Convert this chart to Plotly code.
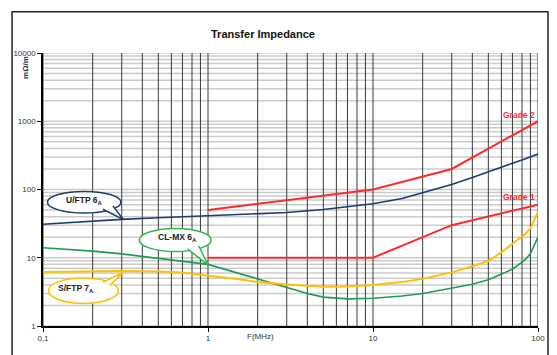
import plotly.graph_objects as go

# Frequency axis (MHz) and measured transfer impedance (mOhm/m)
utp_freq = [0.1, 0.15, 0.2, 0.3, 0.5, 0.7, 1, 1.5, 2, 3, 5, 7, 10, 15, 20, 30, 40, 50, 60, 70, 80, 90, 100]
utp_vals = [31, 33, 34.5, 36.5, 38.5, 40, 41.5, 43, 44, 46, 51, 55.5, 62, 74, 90, 118, 150, 183, 213, 243, 270, 300, 330]

clmx_freq = [0.1, 0.2, 0.3, 0.5, 0.7, 1, 1.5, 2, 3, 4, 5, 7, 10, 15, 20, 25, 30, 40, 50, 60, 70, 80, 85, 90, 95, 100]
clmx_vals = [14, 12.5, 11.4, 9.9, 8.9, 8.0, 6.0, 4.9, 3.6, 3.0, 2.65, 2.5, 2.55, 2.75, 3.0, 3.3, 3.55, 4.1, 4.75, 5.7, 6.8, 8.6, 9.8, 11.5, 15, 20]

sftp_freq = [0.1, 0.2, 0.3, 0.5, 0.7, 1, 1.5, 2, 3, 5, 7, 10, 15, 20, 30, 40, 50, 60, 70, 80, 85, 90, 95, 100]
sftp_vals = [6.2, 6.3, 6.4, 6.3, 6.1, 5.45, 4.9, 4.4, 4.05, 3.75, 3.8, 4.0, 4.4, 4.9, 6.1, 7.5, 8.9, 12, 16, 20, 23, 27, 35, 47]

# Limit lines
grade2_freq = [1, 10, 30, 100]
grade2_vals = [50, 100, 200, 1000]
grade1_freq = [1, 10, 30, 100]
grade1_vals = [10, 10, 30, 60]

x_major = [0.1, 1, 10, 100]
x_major_text = ["0,1", "1", "10", "100"]
y_major = [1, 10, 100, 1000, 10000]
y_major_text = ["1", "10", "100", "1000", "10000"]

NAVY = "#1f3a6e"
RED = "#ff2b2b"
GREEN = "#1f9a58"
GREEN_B = "#2db84d"
GOLD = "#ffc000"

W, H = 557, 355
L, R, T, B = 43, 18, 53, 18
PW, PH = W - L - R, H - T - B


def px(x, y):
    """Pixel position -> paper coordinates."""
    return (x - L) / PW, (H - B - y) / PH


x_grid = [m * 10.0 ** e for e in (-1, 0, 1) for m in range(1, 10)] + [100]
y_grid = [m * 10.0 ** e for e in (0, 1, 2, 3) for m in range(1, 10)] + [10000]

fig = go.Figure()
fig.add_trace(go.Scatter(x=grade2_freq, y=grade2_vals, mode="lines", line=dict(color=RED, width=2)))
fig.add_trace(go.Scatter(x=grade1_freq, y=grade1_vals, mode="lines", line=dict(color=RED, width=2)))
fig.add_trace(go.Scatter(x=utp_freq, y=utp_vals, mode="lines", line=dict(color=NAVY, width=1.6)))
fig.add_trace(go.Scatter(x=clmx_freq, y=clmx_vals, mode="lines", line=dict(color=GREEN, width=1.6)))
fig.add_trace(go.Scatter(x=sftp_freq, y=sftp_vals, mode="lines", line=dict(color=GOLD, width=2)))

shapes = []

# light horizontal grid first, then the dark vertical grid over it
for yv in y_grid:
    shapes.append(dict(type="line", xref="paper", yref="y", x0=0, x1=1, y0=yv, y1=yv,
                       line=dict(color="#cbcbcb", width=1.5), layer="below"))
for xv in x_grid:
    shapes.append(dict(type="line", xref="x", yref="paper", x0=xv, x1=xv, y0=0, y1=1,
                       line=dict(color="#3a3a3a", width=1), layer="below"))

# outer frame
fx0, fy0 = px(12, 390)
fx1, fy1 = px(549, 10)
shapes.append(dict(type="rect", xref="paper", yref="paper", x0=fx0, y0=fy0, x1=fx1, y1=fy1,
                   line=dict(color="#222", width=1.5), layer="below"))


def bubble(x0, y0, x1, y1, b1, b2, tip, color):
    ax0, ay0 = px(x0, y1)
    ax1, ay1 = px(x1, y0)
    shapes.append(dict(type="circle", xref="paper", yref="paper", x0=ax0, y0=ay0, x1=ax1, y1=ay1,
                       fillcolor="white", line=dict(color=color, width=1.5), layer="above"))
    p1, p2, p3 = px(*b1), px(*tip), px(*b2)
    path = f"M {p1[0]},{p1[1]} L {p2[0]},{p2[1]} L {p3[0]},{p3[1]}"
    shapes.append(dict(type="path", xref="paper", yref="paper", path=path,
                       fillcolor="white", line=dict(color=color, width=1.5), layer="above"))


bubble(47.5, 197, 121, 219.5, (103, 215.5), (113, 212), (123.3, 226), NAVY)
bubble(139.5, 235.5, 211.5, 259.5, (188, 257), (199, 253.5), (208.3, 273.5), GREEN_B)
bubble(48.5, 287, 118.5, 313.5, (103, 291.5), (110, 295), (123.3, 281.3), GOLD)

annotations = []


def label(text, x, y, size=8, color="#222", bold=True, angle=0):
    ax, ay = px(x, y)
    annotations.append(dict(text=f"<b>{text}</b>" if bold else text, x=ax, y=ay, xref="paper", yref="paper",
                            showarrow=False, textangle=angle, xanchor="center", yanchor="middle",
                            font=dict(family="Arial, Liberation Sans, sans-serif", size=size, color=color)))


label("Transfer Impedance", 263, 33, size=11, color="#111")
label("mΩ/m", 25.5, 68, size=8, color="#333", angle=-90)
label("F(MHz)", 261, 348, size=8, color="#333", bold=False)
label("Grade 2", 520, 117, size=8.5, color=RED)
label("Grade 1", 520, 203, size=8.5, color=RED)
label("U/FTP 6<sub>A</sub>", 85, 206, size=8.5, color="#222")
label("CL-MX 6<sub>A</sub>", 178, 245, size=8.5, color="#222")
label("S/FTP 7<sub>A</sub>", 76, 298, size=8.5, color="#222")

axis_font = dict(family="Arial, Liberation Sans, sans-serif", size=8, color="#333")

fig.update_layout(
    width=W, height=H,
    margin=dict(l=L, r=R, t=T, b=B),
    paper_bgcolor="white", plot_bgcolor="white",
    showlegend=False,
    shapes=shapes, annotations=annotations,
    xaxis=dict(type="log", range=[-1, 2], tickmode="array", tickvals=x_major, ticktext=x_major_text,
               showgrid=False,
               ticks="outside", ticklen=4, tickcolor="#000", tickfont=axis_font,
               showline=True, linecolor="#000", linewidth=1.5, zeroline=False),
    yaxis=dict(type="log", range=[0, 4], tickmode="array", tickvals=y_major, ticktext=y_major_text,
               showgrid=False,
               ticks="outside", ticklen=4, tickcolor="#000", tickfont=axis_font,
               showline=True, linecolor="#000", linewidth=1.5, zeroline=False),
)

fig.write_html("out.html")
